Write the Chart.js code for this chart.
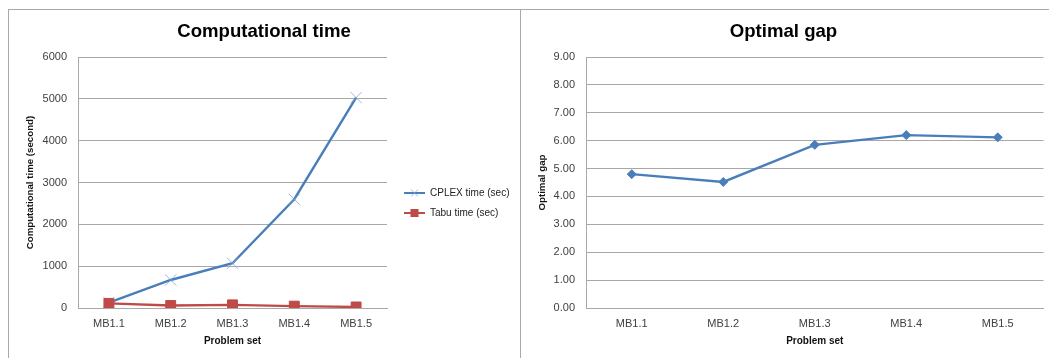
<!DOCTYPE html>
<html>
<head>
<meta charset="utf-8">
<script src="https://cdn.jsdelivr.net/npm/chart.js@4/dist/chart.umd.min.js"></script>
<style>
  html, body { margin: 0; padding: 0; background: #fff; }
  body { width: 1049px; height: 358px; position: relative; overflow: hidden; }
  .panel { position: absolute; border: 1px solid #a9a9a9; border-bottom: none; box-sizing: border-box; }
  #timePanel { left: 8px; top: 9px; width: 513px; height: 360px; }
  #gapPanel { left: 520px; top: 9px; width: 540px; height: 360px; border-right: none; }
  .box { position: absolute; }
  #timeBox { left: 9px; top: 10px; width: 510px; height: 348px; }
  #gapBox { left: 521px; top: 10px; width: 528px; height: 348px; }
</style>
</head>
<body>
<div class="panel" id="timePanel"></div>
<div class="panel" id="gapPanel"></div>
<div class="box" id="timeBox"><canvas id="timeChart"></canvas></div>
<div class="box" id="gapBox"><canvas id="gapChart"></canvas></div>
<script>
// Problem sets and measured results
const problemSets = ['MB1.1', 'MB1.2', 'MB1.3', 'MB1.4', 'MB1.5'];
const cplexTime = [130, 670, 1070, 2600, 5030];
const tabuTime = [110, 60, 75, 45, 25];
const optimalGap = [4.80, 4.52, 5.85, 6.20, 6.12];
const timeTicks = [0, 1000, 2000, 3000, 4000, 5000, 6000];
const gapTicks = [0, 1, 2, 3, 4, 5, 6, 7, 8, 9];

const FONT = "'Liberation Sans', Arial, sans-serif";
const BLUE = '#4a7ebb';
const BLUE_MARK = 'rgba(120,160,210,0.75)';
const RED = '#be4b48';
const GRID = '#a8a8a8';
const TICK = '#404040';

Chart.defaults.font.family = FONT;
Chart.defaults.animation = false;

// Legend swatch: short line with the series marker in the middle
function legendSwatch(color, markColor, kind) {
  const c = document.createElement('canvas');
  c.width = 28; c.height = 14;
  const g = c.getContext('2d');
  g.strokeStyle = color;
  g.lineWidth = 2;
  g.beginPath(); g.moveTo(7, 7); g.lineTo(28, 7); g.stroke();
  if (kind === 'x') {
    g.strokeStyle = markColor; g.lineWidth = 1;
    g.beginPath();
    g.moveTo(14, 3.5); g.lineTo(21, 10.5);
    g.moveTo(21, 3.5); g.lineTo(14, 10.5);
    g.stroke();
  } else {
    g.fillStyle = markColor;
    g.fillRect(13.5, 3, 8, 8);
  }
  return c;
}

function categoryAxis(fontSize) {
  return {
    offset: true,
    grid: { display: false, drawTicks: false },
    border: { display: true, color: GRID, width: 1 },
    ticks: { color: TICK, font: { size: 11 }, padding: 9, maxRotation: 0 },
    title: { display: true, text: 'Problem set', color: '#111', font: { size: fontSize, weight: 'bold' }, padding: { top: 0, bottom: 11 } },
    afterFit: (scale) => { scale.height = 50; }
  };
}

function valueAxis(min, max, ticks, fmt, titleText, width) {
  return {
    min: min,
    max: max,
    afterBuildTicks: (scale) => { scale.ticks = ticks.map(v => ({ value: v })); },
    grid: { color: GRID, lineWidth: 1, drawTicks: false },
    border: { display: true, color: GRID, width: 1 },
    ticks: { color: TICK, font: { size: 11 }, padding: 11, callback: fmt },
    title: { display: true, text: titleText, color: '#111', font: { size: 9.7, weight: 'bold' }, padding: { top: 15.2, bottom: 0 } },
    afterFit: (scale) => { scale.width = width; }
  };
}

const chartTitle = (text) => ({
  display: true,
  text: text,
  color: '#000',
  font: { size: 18.6, weight: 'bold' },
  padding: { top: 10.8, bottom: 13.9 }
});

new Chart(document.getElementById('timeChart'), {
  type: 'line',
  data: {
    labels: problemSets,
    datasets: [
      {
        label: 'CPLEX time (sec)',
        data: cplexTime,
        order: 1,
        borderColor: BLUE,
        borderWidth: 2.4,
        tension: 0,
        pointStyle: 'crossRot',
        pointRadius: 8,
        pointBorderWidth: 1,
        pointBorderColor: BLUE_MARK,
        pointBackgroundColor: BLUE_MARK
      },
      {
        label: 'Tabu time (sec)',
        data: tabuTime,
        order: 0,
        borderColor: RED,
        borderWidth: 2.4,
        tension: 0,
        pointStyle: 'rect',
        pointRadius: 7,
        pointBorderWidth: 1,
        pointBorderColor: RED,
        pointBackgroundColor: RED
      }
    ]
  },
  options: {
    responsive: true,
    maintainAspectRatio: false,
    layout: { padding: 0 },
    scales: {
      x: categoryAxis(10),
      y: valueAxis(0, 6000, timeTicks, v => String(v), 'Computational time (second)', 69)
    },
    plugins: {
      title: chartTitle('Computational time'),
      tooltip: { enabled: false },
      legend: {
        position: 'right',
        maxWidth: 132,
        title: { display: true, text: ' ', font: { size: 10 }, padding: 13 },
        labels: {
          usePointStyle: true,
          pointStyleWidth: 28,
          boxHeight: 10,
          padding: 10,
          color: '#222',
          font: { size: 10 },
          sort: (a, b) => a.datasetIndex - b.datasetIndex,
          generateLabels: (chart) => {
            const items = Chart.defaults.plugins.legend.labels.generateLabels(chart);
            items.forEach(it => {
              it.pointStyle = it.datasetIndex === 0
                ? legendSwatch(BLUE, BLUE_MARK, 'x')
                : legendSwatch(RED, RED, 'sq');
            });
            return items;
          }
        }
      }
    }
  }
});

new Chart(document.getElementById('gapChart'), {
  type: 'line',
  data: {
    labels: problemSets,
    datasets: [
      {
        label: 'Optimal gap',
        data: optimalGap,
        borderColor: BLUE,
        borderWidth: 2.4,
        tension: 0,
        pointStyle: 'rectRot',
        pointRadius: 4.5,
        pointBorderWidth: 1,
        pointBorderColor: BLUE,
        pointBackgroundColor: BLUE
      }
    ]
  },
  options: {
    responsive: true,
    maintainAspectRatio: false,
    layout: { padding: { left: 0, top: 0, bottom: 0, right: 3 } },
    scales: {
      x: categoryAxis(10),
      y: valueAxis(0, 9, gapTicks, v => Number(v).toFixed(2), 'Optimal gap', 65)
    },
    plugins: {
      title: chartTitle('Optimal gap'),
      tooltip: { enabled: false },
      legend: { display: false }
    }
  }
});
</script>
</body>
</html>
